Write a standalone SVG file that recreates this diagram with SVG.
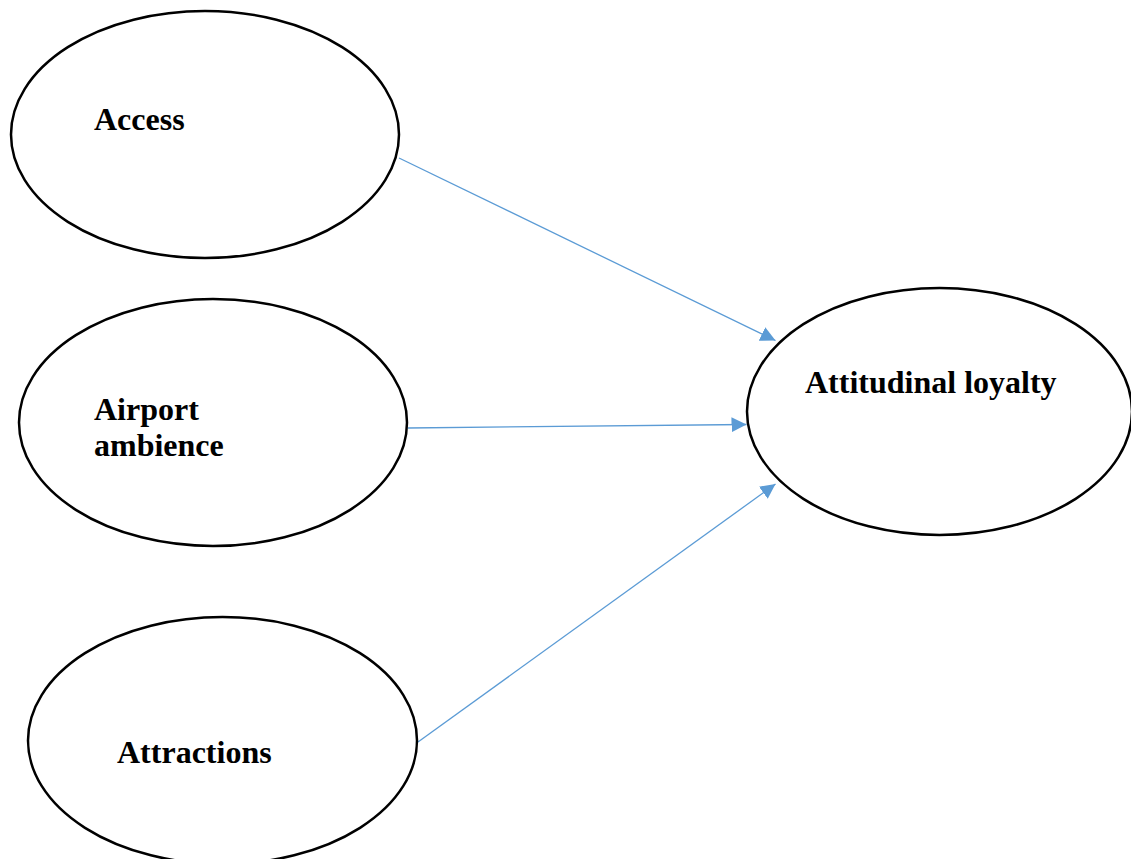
<svg xmlns="http://www.w3.org/2000/svg" width="1131" height="859" viewBox="0 0 1131 859">
<style>
.node ellipse{fill:#fff;stroke:#000;stroke-width:2.5}
.node text{font-family:"Liberation Serif","Times New Roman",serif;font-weight:bold;font-size:32px;fill:#000}
.edge{stroke:#5B9BD5;stroke-width:1.3;fill:none;marker-end:url(#arr)}
</style>
<defs>
<marker id="arr" markerUnits="userSpaceOnUse" markerWidth="16" markerHeight="16" refX="15" refY="7.5" orient="auto">
<path d="M0,0 L15,7.5 L0,15 z" fill="#5B9BD5"/>
</marker>
</defs>
<rect width="1131" height="859" fill="#fff"/>
<g id="connectors">
<line class="edge" x1="399" y1="158" x2="775.5" y2="340.5"/>
<line class="edge" x1="408" y1="428" x2="746.5" y2="424.5"/>
<line class="edge" x1="418" y1="742" x2="775.5" y2="484"/>
</g>
<g id="access" class="node">
<ellipse cx="205" cy="134.5" rx="194" ry="123.5"/>
<text x="94" y="130">Access</text>
</g>
<g id="airport-ambience" class="node">
<ellipse cx="213" cy="422.5" rx="194" ry="123.5"/>
<text x="94" y="420">Airport</text>
<text x="94" y="456">ambience</text>
</g>
<g id="attractions" class="node">
<ellipse cx="222.5" cy="740.5" rx="194.5" ry="123.5"/>
<text x="117" y="763">Attractions</text>
</g>
<g id="attitudinal-loyalty" class="node">
<ellipse cx="939.5" cy="411.5" rx="192.5" ry="123.5"/>
<text x="805" y="393">Attitudinal loyalty</text>
</g>
</svg>
